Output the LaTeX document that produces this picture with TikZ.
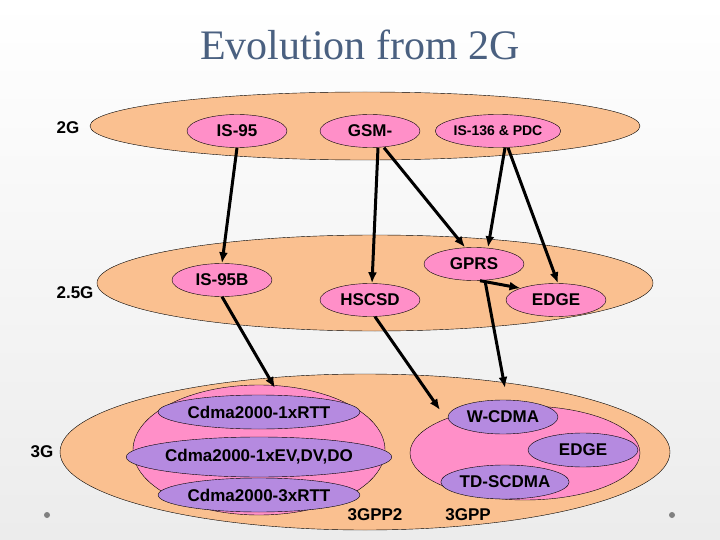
\documentclass[tikz,border=0pt]{standalone}
\usepackage{fontspec}
\setmainfont{Liberation Sans}
\newfontfamily\titlefont{Liberation Serif}
\usetikzlibrary{shapes.geometric,arrows.meta}
\definecolor{peach}{HTML}{FAC090}
\definecolor{pinkf}{HTML}{FF8FC8}
\definecolor{lav}{HTML}{B58AE0}
\definecolor{titlec}{HTML}{4A6080}
\begin{document}
\begin{tikzpicture}[x=1pt,y=-1pt,
  lay/.style={draw=black,fill=peach,ellipse,inner sep=0pt},
  grp/.style={draw=black,fill=pinkf,ellipse,inner sep=0pt},
  tech/.style={draw=black,fill=pinkf,ellipse,inner sep=0pt,minimum width=100pt,minimum height=33pt,font=\bfseries\fontsize{17}{17}\selectfont},
  tech3/.style={draw=black,fill=lav,ellipse,inner sep=0pt,minimum height=34pt,font=\bfseries\fontsize{17}{17}\selectfont},
  lbl/.style={font=\bfseries\fontsize{17}{17}\selectfont},
  arr/.style={line width=3pt,-{Latex[length=11pt,width=9pt]}}]
\shade[top color=white,bottom color=gray!15] (0,0) rectangle (720,540);
\useasboundingbox (0,0) rectangle (720,540);
\node[font=\titlefont\fontsize{42}{42}\selectfont,text=titlec] (title) at (360,45) {Evolution from 2G};
\node[lay,minimum width=550pt,minimum height=68pt] (l2) at (365,126) {};
\node[lay,minimum width=556pt,minimum height=96pt] (l25) at (375,283) {};
\node[lay,minimum width=610pt,minimum height=156pt] (l3) at (365,452) {};
\node[grp,minimum width=252pt,minimum height=130pt] (g2) at (259,450) {};
\node[grp,minimum width=230pt,minimum height=94pt] (g1) at (525,453) {};
\node[lbl] (t2) at (68,128) {2G};
\node[lbl] (t25) at (75,293) {2.5G};
\node[lbl] (t3) at (42,452) {3G};
\node[lbl] (p2) at (375,515) {3GPP2};
\node[lbl] (p1) at (468,515) {3GPP};
\node[tech] (is95) at (237,131) {IS-95};
\node[tech] (gsm) at (370,131) {GSM-};
\node[tech,font=\bfseries\fontsize{14}{14}\selectfont] (is136) at (498,131) {IS-136 \& PDC};
\node[tech] (is95b) at (222,280) {IS-95B};
\node[tech] (hscsd) at (370,300) {HSCSD};
\node[tech] (gprs) at (474,264) {GPRS};
\node[tech] (edge) at (556,300) {EDGE};
\node[tech3,minimum width=196pt] (c1) at (259,412) {Cdma2000-1xRTT};
\node[tech3,minimum width=230pt,minimum height=40pt] (c2) at (259,457) {Cdma2000-1xEV,DV,DO};
\node[tech3,minimum width=196pt] (c3) at (259,495) {Cdma2000-3xRTT};
\node[tech3,minimum width=110pt] (w) at (503,417) {W-CDMA};
\node[tech3,minimum width=110pt] (e3) at (583,450) {EDGE};
\node[tech3,minimum width=110pt] (td) at (505,482) {TD-SCDMA};
\coordinate (a1) at (275,388);
\coordinate (a2) at (440,410);
\coordinate (a3) at (505,388);
\draw[arr] (is95.south) -- (is95b.north);
\draw[arr] ([xshift=8pt]gsm.south) -- ([xshift=2pt]hscsd.north);
\draw[arr] ([xshift=14pt]gsm.south) -- ([xshift=-9pt]gprs.north);
\draw[arr] ([xshift=7pt]is136.south) -- ([xshift=14pt]gprs.north);
\draw[arr] ([xshift=10pt]is136.south) -- ([xshift=2pt]edge.north);
\draw[arr] ([xshift=6pt]gprs.south) -- (edge.north west);
\draw[arr] (is95b.south) -- (a1);
\draw[arr] ([xshift=5pt]hscsd.south) -- (a2);
\draw[arr] ([xshift=11pt]gprs.south) -- (a3);
\fill[gray] (47,515) circle (3pt) (672,515) circle (3pt);
\end{tikzpicture}
\end{document}
